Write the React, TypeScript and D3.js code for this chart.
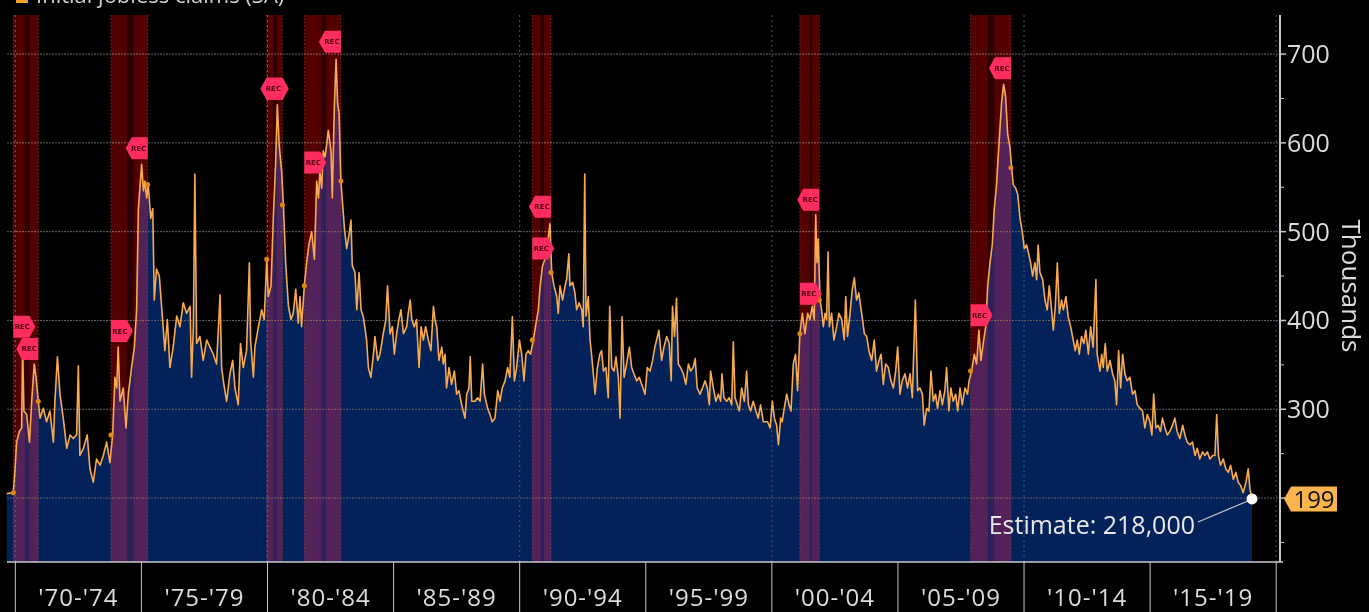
import React from 'react';
import * as d3 from 'd3';

const width = 1369;
const height = 612;
const plot = { left: 7, right: 1280, top: 15, bottom: 562 };

// [decimal year, claims in thousands]
const claims1970s: [number, number][] = [
  [1969.66,205],[1969.92,206],[1969.99,233],[1970.05,263],[1970.16,275],[1970.25,279],[1970.29,370],[1970.34,298],
  [1970.45,294],[1970.56,263],[1970.65,309],[1970.75,351],[1970.82,336],[1970.91,309],[1970.98,290],[1971.11,301],
  [1971.24,286],[1971.37,298],[1971.51,263],[1971.57,309],[1971.67,359],[1971.77,317],[1971.90,290],[1972.04,256],
  [1972.17,271],[1972.30,267],[1972.43,271],[1972.50,349],[1972.56,248],[1972.70,256],[1972.85,271],[1972.96,233],
  [1973.09,218],[1973.22,244],[1973.36,237],[1973.49,248],[1973.62,263],[1973.75,240],[1973.86,271],[1973.95,336],
  [1974.02,324],[1974.08,370],[1974.15,309],[1974.28,324],[1974.39,279],[1974.48,317],[1974.61,347],[1974.72,370],
  [1974.81,412],[1974.88,526],[1975.01,576],[1975.08,546],[1975.14,557],[1975.21,538],[1975.27,553],[1975.37,515],
  [1975.45,526],[1975.51,423],[1975.60,458],[1975.71,450],[1975.84,401],[1975.93,366],[1976.03,401],[1976.13,347],
  [1976.26,370],[1976.40,405],[1976.53,393],[1976.66,420],[1976.79,408],[1976.93,416],[1976.99,336],[1977.06,393],
  [1977.12,565],[1977.19,374],[1977.32,382],[1977.45,355],[1977.59,378],[1977.72,370],[1977.85,362],[1977.98,351],
  [1978.12,429],[1978.18,347],[1978.27,328],[1978.38,309],[1978.51,340],[1978.62,355],[1978.71,324],[1978.84,305],
  [1978.93,374],[1979.04,347],[1979.17,366],[1979.28,465],[1979.33,378],[1979.44,336],
];

const claims1980s: [number, number][] = [
  [1979.50,370],[1979.64,393],[1979.77,412],[1979.87,401],[1979.97,469],[1980.03,427],[1980.14,439],[1980.23,515],
  [1980.32,576],[1980.39,643],[1980.46,599],[1980.56,568],[1980.63,530],[1980.72,465],[1980.83,416],[1980.93,401],
  [1981.02,408],[1981.12,435],[1981.22,397],[1981.29,427],[1981.35,393],[1981.46,439],[1981.55,465],[1981.64,485],
  [1981.75,500],[1981.86,469],[1981.95,557],[1982.02,538],[1982.08,568],[1982.15,549],[1982.21,591],[1982.28,584],
  [1982.35,599],[1982.41,614],[1982.52,591],[1982.57,538],[1982.65,641],[1982.72,694],[1982.78,645],[1982.84,633],
  [1982.91,557],[1982.97,534],[1983.05,504],[1983.14,481],[1983.23,496],[1983.31,513],[1983.36,462],[1983.47,454],
  [1983.54,412],[1983.63,454],[1983.71,412],[1983.80,404],[1983.93,378],[1984.00,347],[1984.10,336],[1984.20,362],
  [1984.26,382],[1984.37,355],[1984.46,362],[1984.59,385],[1984.69,401],[1984.76,439],[1984.86,385],[1984.95,393],
  [1985.03,362],[1985.12,385],[1985.21,401],[1985.29,412],[1985.39,385],[1985.52,393],[1985.58,408],[1985.66,423],
  [1985.72,401],[1985.82,393],[1985.91,401],[1986.01,347],[1986.09,393],[1986.18,378],[1986.27,393],[1986.38,378],
  [1986.48,366],[1986.58,416],[1986.64,401],[1986.71,393],[1986.80,355],[1986.91,370],[1986.97,351],[1987.04,362],
  [1987.10,324],[1987.20,347],[1987.30,328],[1987.41,343],[1987.50,317],[1987.59,321],[1987.70,305],[1987.83,290],
  [1987.90,317],[1987.99,324],[1988.04,359],[1988.10,309],[1988.23,309],[1988.33,313],[1988.43,309],[1988.53,351],
  [1988.60,317],[1988.73,301],[1988.82,294],[1988.91,286],[1989.02,290],[1989.13,321],[1989.22,309],[1989.31,324],
  [1989.42,332],[1989.52,347],[1989.61,336],[1989.71,404],[1989.79,332],
];

const claims1990s: [number, number][] = [
  [1989.88,347],[1989.99,378],[1990.08,362],[1990.17,332],[1990.25,362],[1990.34,366],[1990.43,362],[1990.54,378],
  [1990.65,397],[1990.74,412],[1990.81,439],[1990.91,462],[1991.00,469],[1991.10,485],[1991.20,509],[1991.27,454],
  [1991.36,439],[1991.47,427],[1991.53,408],[1991.60,439],[1991.70,423],[1991.80,439],[1991.86,446],[1991.95,475],
  [1991.99,439],[1992.10,443],[1992.19,431],[1992.26,412],[1992.36,420],[1992.46,412],[1992.52,393],[1992.58,565],
  [1992.63,405],[1992.72,427],[1992.79,378],[1992.85,362],[1992.92,340],[1992.99,317],[1993.08,347],[1993.18,362],
  [1993.25,366],[1993.32,343],[1993.42,347],[1993.51,313],[1993.57,416],[1993.65,347],[1993.74,343],[1993.82,359],
  [1993.91,336],[1993.98,290],[1994.06,404],[1994.14,336],[1994.24,351],[1994.35,370],[1994.44,347],[1994.53,340],
  [1994.64,332],[1994.74,336],[1994.84,328],[1994.97,317],[1995.06,347],[1995.17,343],[1995.27,355],[1995.36,370],
  [1995.43,378],[1995.52,389],[1995.63,355],[1995.72,370],[1995.83,382],[1995.93,374],[1996.01,332],[1996.06,416],
  [1996.14,382],[1996.22,425],[1996.29,351],[1996.38,347],[1996.49,340],[1996.59,328],[1996.69,351],[1996.78,343],
  [1996.88,347],[1996.96,357],[1997.04,324],[1997.15,317],[1997.25,324],[1997.35,332],[1997.44,324],[1997.52,305],
  [1997.57,343],[1997.68,324],[1997.78,309],[1997.88,317],[1997.97,309],[1998.02,340],[1998.10,313],[1998.21,309],
  [1998.31,313],[1998.41,305],[1998.47,376],[1998.54,313],[1998.63,305],[1998.71,298],[1998.80,324],[1998.91,309],
  [1999.00,343],[1999.07,305],[1999.16,298],[1999.26,309],[1999.37,298],[1999.46,290],[1999.55,305],[1999.66,286],
];

const claims2000s: [number, number][] = [
  [1999.83,286],[1999.93,279],[2000.02,309],[2000.10,290],[2000.19,282],[2000.26,260],[2000.35,290],[2000.41,286],
  [2000.49,301],[2000.59,317],[2000.68,305],[2000.76,298],[2000.85,351],[2000.94,362],[2001.02,321],[2001.11,385],
  [2001.21,408],[2001.31,385],[2001.42,408],[2001.51,401],[2001.60,416],[2001.68,401],[2001.74,519],[2001.79,465],
  [2001.84,492],[2001.91,423],[2001.97,412],[2002.04,393],[2002.11,408],[2002.17,401],[2002.23,477],[2002.28,393],
  [2002.37,408],[2002.46,378],[2002.57,393],[2002.66,408],[2002.77,401],[2002.87,378],[2002.93,427],[2003.00,382],
  [2003.10,408],[2003.19,435],[2003.27,448],[2003.36,423],[2003.45,431],[2003.56,408],[2003.67,385],[2003.76,382],
  [2003.85,366],[2003.96,355],[2004.06,378],[2004.15,343],[2004.25,355],[2004.33,362],[2004.42,328],[2004.51,351],
  [2004.62,347],[2004.72,332],[2004.82,324],[2004.91,343],[2004.99,370],[2005.08,317],[2005.17,332],[2005.28,340],
  [2005.38,324],[2005.48,340],[2005.57,313],[2005.69,423],[2005.78,321],[2005.87,324],[2005.97,317],[2006.04,282],
  [2006.14,301],[2006.23,298],[2006.31,343],[2006.40,309],[2006.49,317],[2006.57,301],[2006.67,321],[2006.76,305],
  [2006.86,321],[2006.93,347],[2007.02,298],[2007.10,324],[2007.19,309],[2007.29,317],[2007.37,298],[2007.46,324],
  [2007.55,305],[2007.66,324],[2007.76,317],[2007.82,332],[2007.92,343],[2008.03,362],[2008.12,351],[2008.21,389],
  [2008.29,355],[2008.38,374],[2008.48,393],[2008.56,439],[2008.65,465],[2008.74,485],[2008.82,526],[2008.91,553],
  [2008.98,587],[2009.04,614],[2009.11,645],[2009.19,666],[2009.27,652],[2009.35,610],[2009.44,595],[2009.51,572],
  [2009.57,553],[2009.67,549],[2009.75,542],[2009.84,515],[2009.93,500],[2010.01,481],
];

const claims2010s: [number, number][] = [
  [2010.10,485],[2010.17,477],[2010.26,465],[2010.34,450],[2010.43,465],[2010.50,446],[2010.56,485],[2010.63,454],
  [2010.74,446],[2010.83,423],[2010.92,412],[2011.00,439],[2011.08,416],[2011.16,389],[2011.24,416],[2011.32,465],
  [2011.40,408],[2011.49,423],[2011.56,412],[2011.66,427],[2011.75,404],[2011.85,393],[2011.95,378],[2012.03,366],
  [2012.11,378],[2012.19,362],[2012.28,382],[2012.37,374],[2012.45,389],[2012.55,362],[2012.64,393],[2012.74,370],
  [2012.85,446],[2012.90,362],[2013.01,343],[2013.08,362],[2013.14,347],[2013.22,374],[2013.30,343],[2013.41,355],
  [2013.51,340],[2013.60,332],[2013.67,305],[2013.75,366],[2013.83,324],[2013.91,362],[2014.00,340],[2014.09,332],
  [2014.20,336],[2014.30,317],[2014.40,321],[2014.49,305],[2014.60,301],[2014.70,298],[2014.79,279],[2014.89,294],
  [2014.99,286],[2015.07,271],[2015.14,317],[2015.23,279],[2015.32,282],[2015.41,275],[2015.49,290],[2015.59,279],
  [2015.68,271],[2015.78,275],[2015.89,282],[2015.98,290],[2016.07,275],[2016.18,267],[2016.29,282],[2016.38,271],
  [2016.47,263],[2016.58,260],[2016.68,263],[2016.78,248],[2016.87,256],[2016.97,244],[2017.08,252],[2017.17,248],
  [2017.27,252],[2017.37,244],[2017.48,248],[2017.57,248],[2017.64,294],[2017.71,248],[2017.79,237],[2017.90,244],
  [2018.00,233],[2018.10,229],[2018.19,237],[2018.30,221],[2018.40,229],[2018.49,218],[2018.59,214],[2018.69,206],
  [2018.80,218],[2018.89,233],[2018.96,210],[2019.04,199],
];

const claims = [...claims1970s, ...claims1980s, ...claims1990s, ...claims2000s, ...claims2010s];

// recession shading: [start, end], the darker split inside each, and REC flag levels [start, end]
const recessions: [number, number][] = [
  [1969.92, 1970.91], [1973.79, 1975.25], [1979.97, 1980.59], [1981.46, 1982.91],
  [1990.50, 1991.24], [2001.11, 2001.88], [2007.88, 2009.48],
];
const recessionSplits: [number, number][] = [
  [1970.38, 1970.56], [1974.42, 1974.68], [1980.23, 1980.36], [1982.15, 1982.31],
  [1990.83, 1990.96], [2001.51, 2001.58], [2008.56, 2008.82],
];
const recFlagLevels: [number, number][] = [
  [393, 368], [388, 594], [661, 661], [578, 714], [481, 528], [430, 536], [406, 684],
];

const periodBreaks = [1970, 1975, 1980, 1985, 1990, 1995, 2000, 2005, 2010, 2015, 2020];
const periodLabels = ["'70-'74", "'75-'79", "'80-'84", "'85-'89", "'90-'94", "'95-'99", "'00-'04", "'05-'09", "'10-'14", "'15-'19"];
const gridYears = [1970, 1980, 1990, 2000, 2010, 2020];
const yGrid = [200, 300, 400, 500, 600, 700];
const yLabels = [300, 400, 500, 600, 700];
const yMinor = [150, 250, 350, 450, 550, 650];
const seriesName = 'Initial jobless claims (SA)';
const estimateText = 'Estimate: 218,000';
const axisTitle = 'Thousands';

const font = '"Open Sans", "DejaVu Sans", sans-serif';

export default function App() {
  const x = d3.scaleLinear().domain([1969.67, 2020.15]).range([plot.left, plot.right]);
  const y = d3.scaleLinear().domain([128, 744]).range([plot.bottom, plot.top]);

  const area = d3.area<[number, number]>()
    .x(d => x(d[0]))
    .y0(plot.bottom)
    .y1(d => y(d[1]));
  const line = d3.line<[number, number]>()
    .x(d => x(d[0]))
    .y(d => y(d[1]));

  const bisect = d3.bisector((d: [number, number]) => d[0]).left;
  const valueAt = (t: number) => {
    const i = Math.min(claims.length - 1, bisect(claims, t));
    return claims[i][1];
  };

  const last = claims[claims.length - 1];
  const lx = x(last[0]);
  const ly = y(last[1]);

  const flag = (px: number, py: number, dir: 'right' | 'left', key: string) => {
    const h = 11;
    const path = dir === 'right'
      ? `M${px},${py - h}h16l6,${h}l-6,${h}h-16Z`
      : `M${px},${py - h}h-16l-6,${h}l6,${h}h16Z`;
    const tx = dir === 'right' ? px + 9 : px - 9;
    return (
      <g key={key}>
        <path d={path} fill="#ff2d5f" />
        <text x={tx} y={py + 2.5} textAnchor="middle" fontSize={7} fontWeight="bold"
          fontFamily="DejaVu Sans" fill="#5a0018">REC</text>
      </g>
    );
  };

  return (
    <div>
      <style>{`body{margin:0;background:#000;}`}</style>
      <svg width={width} height={height} style={{ display: 'block', background: '#000' }}>
        <rect width={width} height={height} fill="#000" />

        <path d={area(claims) || ''} fill="#022259" />

        {/* grid */}
        {yGrid.map(v => (
          <g key={'gy' + v}>
            <line x1={plot.left} x2={plot.right} y1={y(v)} y2={y(v)} stroke="#4c4c90" strokeDasharray="2 4" />
            <line x1={plot.left} x2={plot.right} y1={y(v)} y2={y(v)} stroke="#70702c" strokeDasharray="2 4" strokeDashoffset={3} />
          </g>
        ))}
        {gridYears.map(t => (
          <line key={'gx' + t} x1={x(t)} x2={x(t)} y1={plot.top} y2={plot.bottom}
            stroke="#50507a" strokeDasharray="2 3" />
        ))}

        {/* recession shading */}
        {recessions.map(([s, e], i) => {
          const [g0, g1] = recessionSplits[i];
          return (
            <g key={'rec' + i}>
              <rect x={x(s)} width={x(g0) - x(s)} y={plot.top} height={plot.bottom - plot.top} fill="#520000" style={{ mixBlendMode: 'screen' }} />
              <rect x={x(g0)} width={x(g1) - x(g0)} y={plot.top} height={plot.bottom - plot.top} fill="#2a0000" style={{ mixBlendMode: 'screen' }} />
              <rect x={x(g1)} width={x(e) - x(g1)} y={plot.top} height={plot.bottom - plot.top} fill="#520000" style={{ mixBlendMode: 'screen' }} />
            </g>
          );
        })}
        {recessions.map(([s, e], i) => (
          <g key={'recl' + i}>
            <line x1={x(s)} x2={x(s)} y1={plot.top} y2={plot.bottom} stroke="#a0582a" strokeDasharray="1.5 2" opacity={0.55} />
            <line x1={x(e)} x2={x(e)} y1={plot.top} y2={plot.bottom} stroke="#a0582a" strokeDasharray="1.5 2" opacity={0.55} />
          </g>
        ))}

        <path d={line(claims) || ''} fill="none" stroke="#f9aa4c" strokeWidth={1.6} strokeLinejoin="round" />

        {recessions.map(([s, e], i) => (
          <g key={'dot' + i}>
            <circle cx={x(s)} cy={y(valueAt(s))} r={2.5} fill="#e08a10" />
            <circle cx={x(e)} cy={y(valueAt(e))} r={2.5} fill="#e08a10" />
          </g>
        ))}

        {recessions.map(([s, e], i) => (
          <g key={'flags' + i}>
            {flag(x(s), y(recFlagLevels[i][0]), 'right', 's' + i)}
            {flag(x(e), y(recFlagLevels[i][1]), 'left', 'e' + i)}
          </g>
        ))}

        {/* right axis */}
        <line x1={plot.right} x2={plot.right} y1={plot.top} y2={plot.bottom} stroke="#c8c8c8" strokeWidth={2} />
        {yGrid.map(v => (
          <line key={'t' + v} x1={plot.right} x2={plot.right + 6} y1={y(v)} y2={y(v)} stroke="#c8c8c8" strokeWidth={1.5} />
        ))}
        {yMinor.map(v => (
          <line key={'m' + v} x1={plot.right} x2={plot.right + 4} y1={y(v)} y2={y(v)} stroke="#c8c8c8" />
        ))}
        {yLabels.map(v => (
          <text key={'l' + v} x={plot.right + 7} y={y(v)} dy="0.36em" fontSize={25}
            fontFamily={font} fill="#dcdcdc">{v}</text>
        ))}
        <text transform={`translate(1342, 286) rotate(90)`} textAnchor="middle" fontSize={26}
          fontFamily={font} fill="#dcdcdc">{axisTitle}</text>

        {/* bottom axis */}
        <line x1={plot.left} x2={plot.right + 3} y1={plot.bottom} y2={plot.bottom} stroke="#c8c8c8" strokeWidth={1.5} />
        {periodBreaks.map(t => (
          <line key={'pb' + t} x1={x(t)} x2={x(t)} y1={plot.bottom} y2={height} stroke="#c8c8c8" />
        ))}
        {periodLabels.map((lab, i) => (
          <text key={lab} x={(x(periodBreaks[i]) + x(periodBreaks[i + 1])) / 2} y={606}
            textAnchor="middle" fontSize={24} letterSpacing={1} fontFamily={font} fill="#dcdcdc">{lab}</text>
        ))}

        {/* last value tag */}
        <path d={`M${plot.right + 4},${ly}l7,-12.5h46v25h-46Z`} fill="#f9b54c" />
        <text x={plot.right + 34} y={ly} dy="0.36em" textAnchor="middle" fontSize={24}
          fontFamily={font} fill="#111">{last[1]}</text>

        {/* estimate annotation */}
        <line x1={lx - 54} y1={ly + 23} x2={lx - 4} y2={ly + 2} stroke="#c8c8c8" strokeWidth={1.2} />
        <circle cx={lx} cy={ly} r={5.5} fill="#ffffff" />
        <text x={lx - 57} y={ly + 35} textAnchor="end" fontSize={25} fontFamily={font} fill="#e8e8e8">{estimateText}</text>

        {/* legend (clipped at top, as in the source) */}
        <rect x={16} y={-9} width={12} height={12} fill="#f0a030" />
        <text x={36} y={3} fontSize={22} fontFamily={font} fill="#cfcfcf">{seriesName}</text>
      </svg>
    </div>
  );
}
